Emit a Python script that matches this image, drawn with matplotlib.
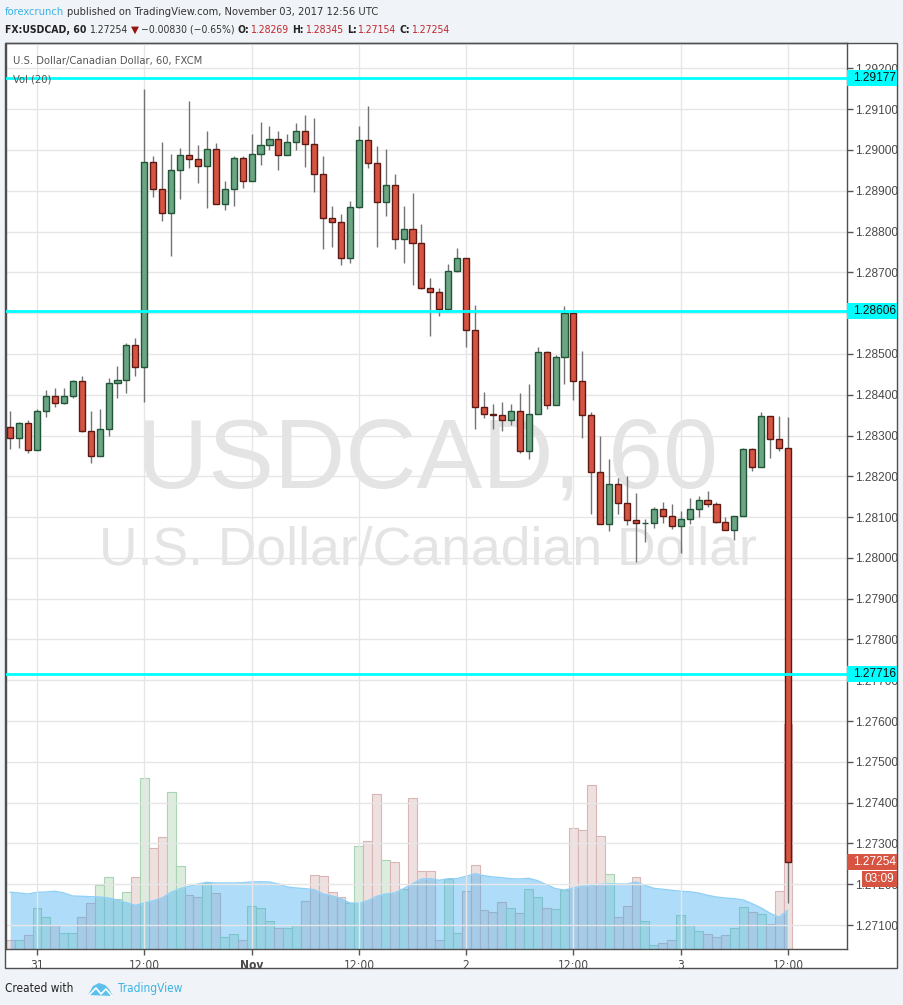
import numpy as np
import matplotlib
matplotlib.use('Agg')
import matplotlib.pyplot as plt
import matplotlib.transforms as mtransforms
from matplotlib.patches import Rectangle, Polygon

# USDCAD 1h candles, Oct 30 21:00 -> Nov 3 12:00 (UTC)
opens = [1.28321, 1.28294, 1.28330, 1.28265, 1.28361, 1.28396, 1.28379, 1.28396, 1.28433, 1.28310,
         1.28250, 1.28316, 1.28428, 1.28435, 1.28522, 1.28468, 1.28970, 1.28904, 1.28845, 1.28951,
         1.28987, 1.28977, 1.28960, 1.29002, 1.28867, 1.28904, 1.28980, 1.28924, 1.28990, 1.29012,
         1.29026, 1.28987, 1.29019, 1.29046, 1.29014, 1.28941, 1.28833, 1.28823, 1.28735, 1.28861,
         1.29024, 1.28968, 1.28872, 1.28914, 1.28781, 1.28806, 1.28772, 1.28661, 1.28651, 1.28611,
         1.28703, 1.28735, 1.28559, 1.28371, 1.28352, 1.28350, 1.28338, 1.28361, 1.28263, 1.28352,
         1.28504, 1.28375, 1.28492, 1.28600, 1.28433, 1.28350, 1.28210, 1.28083, 1.28181, 1.28134,
         1.28093, 1.28085, 1.28085, 1.28120, 1.28102, 1.28078, 1.28095, 1.28120, 1.28142, 1.28132,
         1.28088, 1.28068, 1.28102, 1.28267, 1.28223, 1.28347, 1.28291, 1.28269]
highs = [1.28359, 1.28333, 1.28339, 1.28365, 1.28412, 1.28416, 1.28416, 1.28437, 1.28445, 1.28361,
         1.28365, 1.28441, 1.28471, 1.28527, 1.28540, 1.29149, 1.28986, 1.29020, 1.28991, 1.29004,
         1.29120, 1.29013, 1.29047, 1.29017, 1.28924, 1.28986, 1.28986, 1.29040, 1.29069, 1.29059,
         1.29047, 1.29040, 1.29067, 1.29086, 1.29079, 1.28986, 1.28863, 1.28843, 1.28875, 1.29059,
         1.29107, 1.29010, 1.29003, 1.28942, 1.28863, 1.28894, 1.28819, 1.28687, 1.28661, 1.28721,
         1.28759, 1.28735, 1.28621, 1.28407, 1.28378, 1.28381, 1.28378, 1.28405, 1.28427, 1.28517,
         1.28508, 1.28497, 1.28618, 1.28604, 1.28508, 1.28358, 1.28299, 1.28243, 1.28195, 1.28201,
         1.28159, 1.28095, 1.28126, 1.28138, 1.28133, 1.28116, 1.28147, 1.28152, 1.28165, 1.28138,
         1.28100, 1.28102, 1.28269, 1.28269, 1.28357, 1.28347, 1.28348, 1.28345]
lows = [1.28267, 1.28269, 1.28257, 1.28265, 1.28345, 1.28371, 1.28377, 1.28392, 1.28308, 1.28232,
        1.28249, 1.28299, 1.28392, 1.28404, 1.28445, 1.28383, 1.28884, 1.28827, 1.28741, 1.28881,
        1.28955, 1.28918, 1.28859, 1.28867, 1.28853, 1.28863, 1.28907, 1.28924, 1.28964, 1.29000,
        1.28952, 1.28987, 1.28999, 1.28959, 1.28898, 1.28758, 1.28761, 1.28718, 1.28724, 1.28857,
        1.28955, 1.28761, 1.28837, 1.28758, 1.28724, 1.28668, 1.28659, 1.28543, 1.28594, 1.28611,
        1.28700, 1.28516, 1.28315, 1.28343, 1.28316, 1.28310, 1.28325, 1.28257, 1.28242, 1.28352,
        1.28365, 1.28375, 1.28426, 1.28386, 1.28293, 1.28107, 1.28083, 1.28065, 1.28107, 1.28080,
        1.27991, 1.28040, 1.28073, 1.28085, 1.28071, 1.28013, 1.28083, 1.28100, 1.28126, 1.28085,
        1.28068, 1.28043, 1.28102, 1.28214, 1.28223, 1.28244, 1.28263, 1.27154]
closes = [1.28294, 1.28330, 1.28265, 1.28359, 1.28396, 1.28379, 1.28396, 1.28433, 1.28310, 1.28250,
          1.28316, 1.28428, 1.28437, 1.28522, 1.28468, 1.28970, 1.28904, 1.28845, 1.28951, 1.28987,
          1.28977, 1.28960, 1.29002, 1.28867, 1.28904, 1.28980, 1.28924, 1.28990, 1.29012, 1.29026,
          1.28987, 1.29019, 1.29046, 1.29014, 1.28941, 1.28833, 1.28823, 1.28735, 1.28861, 1.29024,
          1.28968, 1.28872, 1.28914, 1.28781, 1.28806, 1.28772, 1.28661, 1.28651, 1.28611, 1.28703,
          1.28735, 1.28559, 1.28371, 1.28352, 1.28350, 1.28338, 1.28361, 1.28263, 1.28352, 1.28504,
          1.28375, 1.28492, 1.28600, 1.28433, 1.28350, 1.28210, 1.28083, 1.28181, 1.28134, 1.28093,
          1.28085, 1.28085, 1.28120, 1.28102, 1.28078, 1.28095, 1.28120, 1.28142, 1.28132, 1.28088,
          1.28068, 1.28102, 1.28267, 1.28223, 1.28347, 1.28291, 1.28270, 1.27254]

# volume (relative units) and its 20-period average
volume = [9.3, 9.3, 13.7, 40.7, 31.7, 23.7, 16.3, 16.3, 31.7, 46.3,
          63.7, 72.3, 50.3, 56.7, 72.3, 170.7, 101.3, 112.3, 157.3, 83.3,
          54.3, 52.3, 66.3, 56.3, 11.7, 15.3, 9.3, 43.3, 41.3, 28.3,
          21.3, 21.3, 24.3, 48.3, 74.3, 73.3, 57.3, 52.3, 45.7, 103.3,
          108.3, 155.3, 89.3, 87.3, 60.3, 151.3, 78.3, 78.3, 9.3, 70.0,
          16.3, 58.3, 84.3, 39.3, 37.3, 47.3, 41.3, 36.3, 60.3, 52.3,
          41.3, 40.3, 59.3, 121.3, 119.3, 164.3, 113.3, 75.3, 32.3, 43.3,
          72.3, 28.3, 4.3, 6.3, 9.3, 34.3, 24.3, 18.3, 15.3, 12.3,
          14.3, 21.3, 42.3, 37.3, 35.3, 25.3, 58.3, 225.0]
vol_ma = [56.7, 56.0, 55.0, 56.7, 57.0, 57.7, 56.0, 53.0, 52.7, 52.3,
          52.0, 51.0, 49.0, 46.3, 43.7, 46.0, 48.3, 51.0, 56.7, 60.3,
          62.7, 65.0, 66.7, 66.0, 66.0, 66.0, 66.3, 67.0, 67.3, 67.0,
          65.0, 62.0, 61.0, 60.3, 59.3, 55.0, 53.0, 50.3, 46.0, 45.7,
          48.3, 52.7, 55.0, 56.0, 60.3, 65.3, 70.0, 70.3, 68.7, 70.3,
          70.3, 72.7, 75.3, 73.3, 72.0, 71.3, 70.3, 70.0, 70.7, 68.3,
          64.3, 60.3, 59.0, 61.0, 62.7, 63.3, 64.7, 65.3, 65.0, 65.0,
          67.0, 63.7, 60.7, 59.7, 58.7, 57.7, 57.3, 56.0, 53.7, 52.0,
          51.0, 50.3, 49.0, 45.3, 41.0, 35.7, 31.7, 39.0]

levels = [1.29177, 1.28606, 1.27716]
last_price = 1.27254
tick_pos = [3, 15, 27, 39, 51, 63, 75, 87]
tick_labels = ['31', '12:00', 'Nov', '12:00', '2', '12:00', '3', '12:00']
price_ticks = np.round(np.arange(1.271, 1.2925, 0.001), 3)

W, H = 904, 1005
COND = dict(family='DejaVu Sans', stretch='condensed')
GREEN, GREEN_EDGE = '#6ba583', '#225437'
RED, RED_EDGE = '#d75442', '#5b1a13'


def fx(px):
    return px / W


def fy(py):
    return 1 - py / H


fig = plt.figure(figsize=(W / 100, H / 100), dpi=100, facecolor='#f0f3f7')
renderer = fig.canvas.get_renderer()


def chain(x_px, y_px, pieces, size):
    # lay text pieces out one after another, left to right
    for txt, gap, style in pieces:
        t = fig.text(fx(x_px), fy(y_px), txt, fontsize=size, va='center', **style)
        bb = t.get_window_extent(renderer)
        x_px = bb.x1 + gap


# white chart frame
fig.patches.append(Rectangle((fx(5), fy(968)), fx(892), (968 - 43) / H, transform=fig.transFigure,
                             facecolor='white', edgecolor='#4f4f4f', lw=1.0, zorder=-1))

ax = fig.add_axes([fx(6), fy(949), fx(841), (949 - 43) / H])
axv = ax.twinx()
ax.set_zorder(axv.get_zorder() + 1)
ax.patch.set_visible(False)
axv.patch.set_visible(False)

idx = np.arange(len(opens))
o = np.array(opens)
c = np.array(closes)
up = c >= o

# volume panel
vol_colors = np.where(up, '#dcedde', '#efe0e0')
vol_edges = np.where(up, '#a9d3b2', '#d8b6b6')
axv.bar(idx, volume, width=1.0, color=vol_colors, edgecolor=vol_edges, lw=0.8, zorder=1)
axv.fill_between(idx, 0, vol_ma, color='#39acf2', alpha=0.4, lw=0, zorder=2)
axv.plot(idx, vol_ma, color='#8fd0f7', lw=1.0, zorder=3)
axv.set_ylim(0, 906)
axv.set_yticks([])
for s in axv.spines.values():
    s.set_visible(False)

# grid
ax.set_axisbelow(True)
ax.grid(True, color='#e6e6e6', lw=1.0)

# watermark
ax.text(0.501, 0.538, 'USDCAD, 60', transform=ax.transAxes, ha='center', va='center',
        fontsize=71, color='#e4e4e4', family='Liberation Sans', zorder=0.5)
ax.text(0.502, 0.44, 'U.S. Dollar/Canadian Dollar', transform=ax.transAxes, ha='center', va='center',
        fontsize=38.5, color='#e4e4e4', family='Liberation Sans', zorder=0.5)

# candles
ax.vlines(idx, lows, highs, color='#737375', lw=1.0, zorder=3)
ax.bar(idx, c - o, bottom=o, width=0.68, color=np.where(up, GREEN, RED),
       edgecolor=np.where(up, GREEN_EDGE, RED_EDGE), lw=1.0, zorder=4)

# horizontal levels
for lv in levels:
    ax.axhline(lv, color='#00ffff', lw=2.0, zorder=5)

ax.set_xlim(-0.47, 93.6)
ax.set_ylim(1.270412, 1.292623)

ax.yaxis.tick_right()
ax.set_yticks(price_ticks)
# the 1.28600 label sits fully under the 1.28606 level box
ax.set_yticklabels(['' if abs(v - 1.286) < 1e-9 else '%.5f' % v for v in price_ticks])
ax.set_xticks(tick_pos)
ax.set_xticklabels(tick_labels)
ax.tick_params(axis='y', length=4, width=1, color='#555555', labelcolor='#4a4a4a',
               labelsize=8.6, pad=2)
ax.tick_params(axis='x', length=4, width=1, color='#555555', labelcolor='#4a4a4a',
               labelsize=8.6, pad=3)
for lab in ax.get_yticklabels():
    lab.set_family('Liberation Sans')
for lab in ax.get_xticklabels():
    lab.set_family('DejaVu Sans')
    lab.set_stretch('condensed')
ax.get_xticklabels()[2].set_fontweight('bold')
for name, s in ax.spines.items():
    s.set_color('#4f4f4f')
    s.set_linewidth(1.0)

# price axis labels for levels and last price
blend = mtransforms.blended_transform_factory(ax.transAxes, ax.transData)
half = 8 / 40790
box_w = 50 / 841
for lv in levels:
    ax.add_patch(Rectangle((1.0, lv - half), box_w, 2 * half, transform=blend,
                           facecolor='#00ffff', edgecolor='none', clip_on=False, zorder=6))
    ax.text(1.0 + 6 / 841, lv, '%.5f' % lv, transform=blend, va='center', ha='left',
            fontsize=8.6, color='#111111', family='Liberation Sans', clip_on=False, zorder=7)
ax.add_patch(Rectangle((1.0, last_price - half), box_w, 2 * half, transform=blend,
                       facecolor='#d75442', edgecolor='none', clip_on=False, zorder=6))
ax.text(1.0 + 6 / 841, last_price, '%.5f' % last_price, transform=blend, va='center', ha='left',
        fontsize=8.6, color='white', family='Liberation Sans', clip_on=False, zorder=7)
ax.add_patch(Rectangle((1.0 + 15 / 841, last_price - 3 * half - 1 / 40790), 35 / 841, 2 * half,
                       transform=blend, facecolor='#d75442', edgecolor='none', clip_on=False, zorder=6))
ax.text(1.0 + 32.5 / 841, last_price - 2 * half - 1 / 40790, '03:09', transform=blend,
        va='center', ha='center', fontsize=8.6, color='white', family='Liberation Sans',
        clip_on=False, zorder=7)

# header
REG = dict(color='#333333', **COND)
BOLD = dict(color='#222222', fontweight='bold', **COND)
VAL = dict(color='#c0262d', **COND)
chain(5, 12, [('forexcrunch', 3, dict(color='#3bb3e4', **COND)),
              ('published on TradingView.com, November 03, 2017 12:56 UTC', 0, REG)], 8.0)
chain(5, 30, [('FX:USDCAD, 60', 3, BOLD), ('1.27254', 3, REG),
              ('\u25bc', 2, dict(color='#9b1010', family='DejaVu Sans')),
              ('\u22120.00830 (\u22120.65%)', 3, REG),
              ('O:', 1, BOLD), ('1.28269', 4, VAL), ('H:', 1, BOLD), ('1.28345', 4, VAL),
              ('L:', 1, BOLD), ('1.27154', 4, VAL), ('C:', 1, BOLD), ('1.27254', 0, VAL)], 7.5)

fig.text(fx(13), fy(61), 'U.S. Dollar/Canadian Dollar, 60, FXCM', color='#555555',
         fontsize=8.0, va='center', **COND)
fig.text(fx(13), fy(79), 'Vol (20)', color='#555555', fontsize=8.0, va='center', **COND)

# footer
fig.text(fx(5), fy(988), 'Created with', color='#222222', fontsize=8.5, va='center', **COND)
logo = Polygon([(fx(88), fy(995)), (fx(93), fy(986)), (fx(99), fy(983)), (fx(105), fy(985)),
                (fx(109), fy(989)), (fx(113), fy(996))], closed=True, transform=fig.transFigure,
               facecolor='#5bc0eb', edgecolor='none')
fig.patches.append(logo)
fig.lines.append(plt.Line2D([fx(89), fx(96), fx(101), fx(106), fx(112)],
                            [fy(995), fy(988), fy(994), fy(989), fy(996)],
                            transform=fig.transFigure, color='white', lw=1.2))
fig.text(fx(118), fy(988), 'TradingView', color='#3bb3e4', fontsize=8.5, va='center', **COND)

fig.savefig('out.png', dpi=100, facecolor=fig.get_facecolor())
